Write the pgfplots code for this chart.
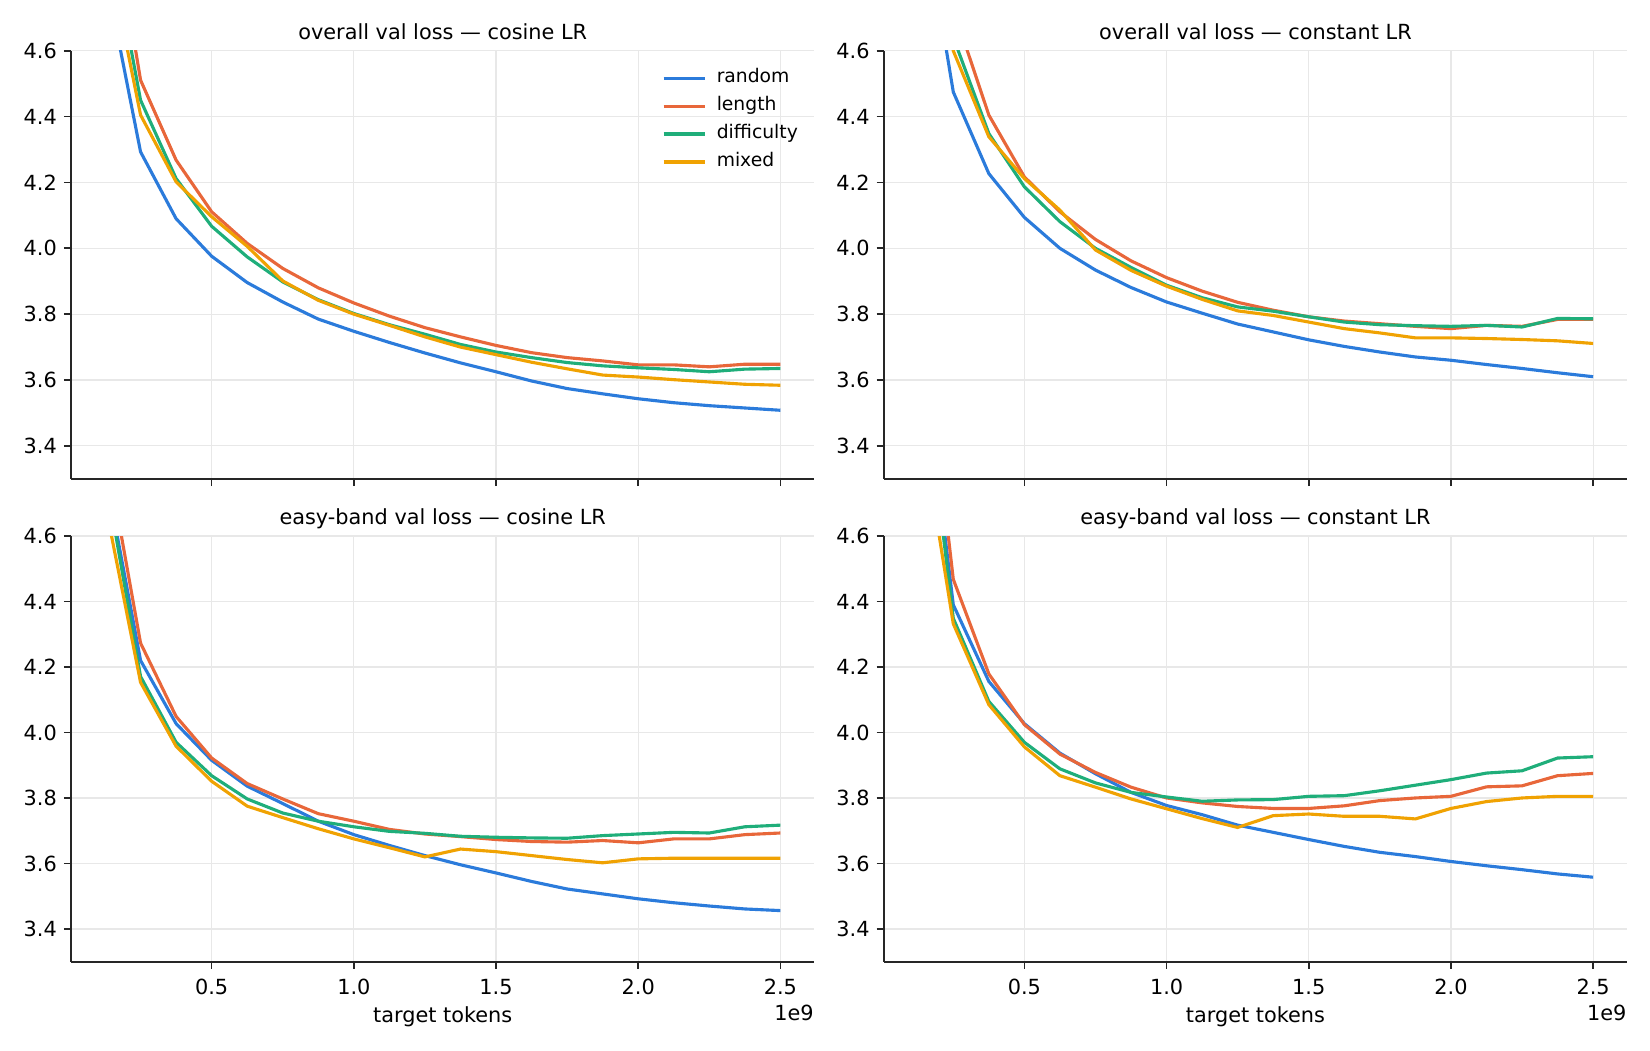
\documentclass[border=0pt]{standalone}
\usepackage{fontspec}
\setmainfont{DejaVu Sans}
\usepackage{pgfplots}
\usepackage{pgfplotstable}
\pgfplotsset{compat=1.18}

\definecolor{cB}{HTML}{2B7BDB}
\definecolor{cO}{HTML}{E8673A}
\definecolor{cG}{HTML}{1FAE7A}
\definecolor{cY}{HTML}{F0A202}

% x in units of 1e9 target tokens
\pgfplotstableread{
x b o g y
0.125 4.84 5.16 5.03 4.94
0.250 4.293 4.511 4.450 4.405
0.375 4.090 4.268 4.212 4.202
0.500 3.976 4.111 4.067 4.096
0.625 3.896 4.015 3.974 4.006
0.750 3.837 3.939 3.898 3.901
0.875 3.785 3.880 3.844 3.842
1.000 3.748 3.834 3.802 3.800
1.125 3.714 3.794 3.768 3.766
1.250 3.682 3.759 3.739 3.731
1.375 3.652 3.731 3.708 3.700
1.500 3.625 3.705 3.685 3.677
1.625 3.597 3.683 3.668 3.654
1.750 3.574 3.668 3.653 3.634
1.875 3.558 3.658 3.643 3.615
2.000 3.543 3.646 3.637 3.609
2.125 3.531 3.646 3.632 3.601
2.250 3.522 3.640 3.625 3.594
2.375 3.515 3.648 3.633 3.587
2.500 3.508 3.648 3.635 3.584
}\tabTL

\pgfplotstableread{
x b o g y
0.125 5.13 5.40 5.30 5.20
0.250 4.475 4.728 4.641 4.600
0.375 4.227 4.405 4.349 4.339
0.500 4.094 4.217 4.187 4.212
0.625 4.000 4.111 4.081 4.116
0.750 3.934 4.027 4.000 3.995
0.875 3.881 3.962 3.942 3.933
1.000 3.837 3.911 3.888 3.885
1.125 3.803 3.870 3.850 3.845
1.250 3.770 3.836 3.822 3.810
1.375 3.746 3.812 3.809 3.796
1.500 3.722 3.792 3.792 3.776
1.625 3.702 3.779 3.776 3.756
1.750 3.685 3.771 3.768 3.743
1.875 3.670 3.763 3.765 3.728
2.000 3.660 3.756 3.763 3.728
2.125 3.647 3.766 3.766 3.726
2.250 3.635 3.763 3.761 3.723
2.375 3.622 3.784 3.787 3.719
2.500 3.610 3.784 3.786 3.711
}\tabTR

\pgfplotstableread{
x b o g y
0.125 4.80 4.88 4.79 4.70
0.250 4.220 4.273 4.171 4.153
0.375 4.027 4.049 3.970 3.958
0.500 3.915 3.922 3.868 3.851
0.625 3.836 3.844 3.797 3.775
0.750 3.783 3.797 3.754 3.740
0.875 3.729 3.752 3.729 3.706
1.000 3.688 3.729 3.712 3.675
1.125 3.655 3.704 3.698 3.648
1.250 3.624 3.690 3.692 3.620
1.375 3.596 3.682 3.683 3.644
1.500 3.571 3.673 3.680 3.636
1.625 3.545 3.667 3.678 3.624
1.750 3.522 3.665 3.677 3.612
1.875 3.507 3.670 3.685 3.602
2.000 3.492 3.663 3.690 3.614
2.125 3.480 3.675 3.695 3.616
2.250 3.470 3.675 3.693 3.616
2.375 3.461 3.688 3.712 3.616
2.500 3.456 3.693 3.717 3.616
}\tabBL

\pgfplotstableread{
x b o g y
0.125 5.29 5.41 5.25 5.01
0.250 4.390 4.468 4.349 4.332
0.375 4.156 4.179 4.095 4.085
0.500 4.027 4.024 3.970 3.956
0.625 3.937 3.934 3.889 3.868
0.750 3.874 3.878 3.846 3.833
0.875 3.817 3.833 3.817 3.797
1.000 3.777 3.800 3.803 3.767
1.125 3.749 3.785 3.790 3.737
1.250 3.717 3.774 3.794 3.710
1.375 3.695 3.768 3.795 3.746
1.500 3.673 3.768 3.805 3.751
1.625 3.652 3.776 3.807 3.744
1.750 3.634 3.792 3.822 3.744
1.875 3.621 3.800 3.839 3.736
2.000 3.606 3.805 3.856 3.768
2.125 3.593 3.834 3.876 3.789
2.250 3.581 3.837 3.883 3.800
2.375 3.568 3.868 3.922 3.805
2.500 3.558 3.875 3.926 3.805
}\tabBR

\pgfplotsset{
  panel/.style={
    scale only axis, width=356.6pt,
    xmin=0.00625, xmax=2.61875, ymin=3.3, ymax=4.6,
    xtick={0.5,1.0,1.5,2.0,2.5},
    ytick={3.4,3.6,3.8,4.0,4.2,4.4,4.6},
    axis x line*=bottom, axis y line*=left,
    axis line style={black!85, line width=0.8pt, -},
    tick align=outside, major tick length=3.5pt,
    tick style={black!85, line width=0.8pt},
    grid=major, major grid style={black!9, line width=0.6pt},
    ticklabel style={font=\fontsize{10}{12}\selectfont, text=black},
    xticklabel style={inner sep=0pt, yshift=-4.8pt},
    yticklabel style={inner sep=0pt, xshift=-3.2pt},
    title style={font=\fontsize{10}{12}\selectfont, at={(axis description cs:0.5,1)}, anchor=base, yshift=-0.6pt, inner sep=0pt},
    /pgf/number format/fixed, /pgf/number format/fixed zerofill,
    /pgf/number format/precision=1, /pgf/number format/assume math mode=true,
    every axis plot/.append style={line width=1.5pt, mark=none},
  },
  bottompanel/.style={
    panel, height=204.3pt,
    xlabel={target tokens},
    xlabel style={font=\fontsize{10}{12}\selectfont, at={(axis description cs:0.5,0)}, anchor=base, yshift=-29pt, inner sep=0pt},
  },
  toppanel/.style={panel, height=205.4pt, xticklabels={}},
}

\begin{document}
\begin{tikzpicture}
\useasboundingbox (0,0) rectangle (792pt,504pt);

\begin{axis}[toppanel, at={(34.2pt,274.2pt)}, anchor=south west,
  title={overall val loss — cosine LR},
  legend style={draw=none, fill=none, at={(axis description cs:0.7954,0.957)}, anchor=north west,
    inner sep=0pt, outer sep=0pt, row sep=4.8pt, column sep=5.0pt,
    font=\fontsize{9}{11}\selectfont,
    nodes={inner sep=0pt, text height=6.6pt, text depth=2pt}},
  legend cell align=left,
  legend image code/.code={\draw[#1] (0pt,0pt) -- (19.7pt,0pt);},
]
\addplot[cB] table[x=x, y=b] {\tabTL};
\addplot[cO] table[x=x, y=o] {\tabTL};
\addplot[cG] table[x=x, y=g] {\tabTL};
\addplot[cY] table[x=x, y=y] {\tabTL};
\legend{random, length, difficulty, mixed}
\end{axis}

\begin{axis}[toppanel, at={(424.3pt,274.2pt)}, anchor=south west,
  title={overall val loss — constant LR}]
\addplot[cB] table[x=x, y=b] {\tabTR};
\addplot[cO] table[x=x, y=o] {\tabTR};
\addplot[cG] table[x=x, y=g] {\tabTR};
\addplot[cY] table[x=x, y=y] {\tabTR};
\end{axis}

\begin{axis}[bottompanel, name=BL, at={(34.2pt,42.4pt)}, anchor=south west,
  title={easy-band val loss — cosine LR}]
\addplot[cB] table[x=x, y=b] {\tabBL};
\addplot[cO] table[x=x, y=o] {\tabBL};
\addplot[cG] table[x=x, y=g] {\tabBL};
\addplot[cY] table[x=x, y=y] {\tabBL};
\end{axis}

\begin{axis}[bottompanel, name=BR, at={(424.3pt,42.4pt)}, anchor=south west,
  title={easy-band val loss — constant LR}]
\addplot[cB] table[x=x, y=b] {\tabBR};
\addplot[cO] table[x=x, y=o] {\tabBR};
\addplot[cG] table[x=x, y=g] {\tabBR};
\addplot[cY] table[x=x, y=y] {\tabBR};
\end{axis}

\node[anchor=base east, inner sep=0pt, font=\fontsize{10}{12}\selectfont] at ([yshift=-28pt]BL.south east) {1e9};
\node[anchor=base east, inner sep=0pt, font=\fontsize{10}{12}\selectfont] at ([yshift=-28pt]BR.south east) {1e9};
\end{tikzpicture}
\end{document}
